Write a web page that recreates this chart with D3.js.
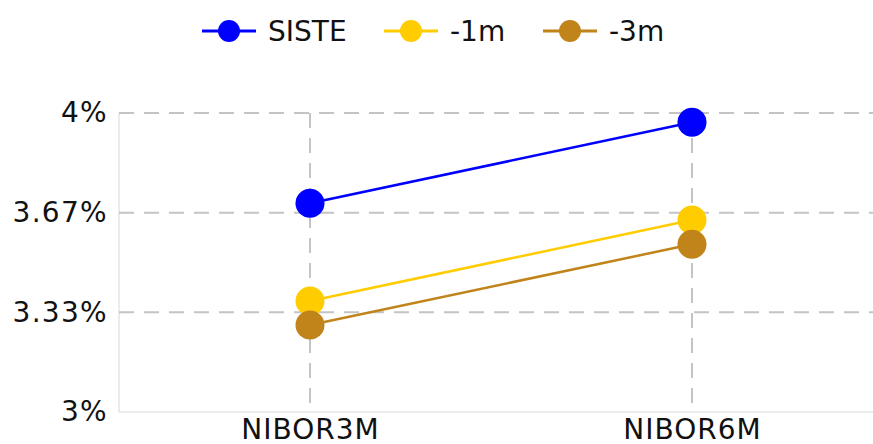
<!DOCTYPE html>
<html>
<head>
<meta charset="utf-8">
<script src="https://cdn.jsdelivr.net/npm/d3@7"></script>
<style>
  body { margin: 0; background: #fff; }
  text { font-family: "DejaVu Sans", sans-serif; fill: #111; }
</style>
</head>
<body>
<div id="chart"></div>
<script>
// data
var categories = ["NIBOR3M", "NIBOR6M"]
var seriesNames = ["SISTE", "-1m", "-3m"]
var seriesColors = ["#0000ff", "#ffcc00", "#c0841a"]
var siste = [3.698, 3.969]
var minus1m = [3.371, 3.642]
var minus3m = [3.291, 3.561]
var yTicks = [3, 10 / 3, 11 / 3, 4]
var yTickLabels = ["3%", "3.33%", "3.67%", "4%"]

var width = 873
var height = 444

var series = [siste, minus1m, minus3m].map((vals, i) => ({
    name: seriesNames[i],
    color: seriesColors[i],
    values: vals.map((v, j) => ({ cat: categories[j], v: v }))
}))

var svg = d3.select("#chart")
    .append("svg")
    .attr("width", width)
    .attr("height", height)

var x = d3.scalePoint()
    .domain(categories)
    .range([119, 883])
    .padding(0.5)

var y = d3.scaleLinear()
    .domain([3, 4])
    .range([412, 113])

// axis frame
svg.append("line")
    .attr("x1", 119).attr("x2", 119)
    .attr("y1", y(4)).attr("y2", y(3))
    .attr("stroke", "#e4e4e4").attr("stroke-width", 1.5)
svg.append("line")
    .attr("x1", 119).attr("x2", width)
    .attr("y1", y(3)).attr("y2", y(3))
    .attr("stroke", "#e4e4e4").attr("stroke-width", 1.5)

// dashed grid
svg.append("g")
    .selectAll("line")
    .data(yTicks.slice(1))
    .join("line")
    .attr("x1", 119).attr("x2", width)
    .attr("y1", d => y(d)).attr("y2", d => y(d))
    .attr("stroke", "#c4c4c4")
    .attr("stroke-width", 2)
    .attr("stroke-dasharray", "15,10")

svg.append("g")
    .selectAll("line")
    .data(categories)
    .join("line")
    .attr("x1", d => x(d)).attr("x2", d => x(d))
    .attr("y1", y(4)).attr("y2", y(3))
    .attr("stroke", "#c4c4c4")
    .attr("stroke-width", 2)
    .attr("stroke-dasharray", "15,10")

// axes via d3
var yAxis = svg.append("g")
    .attr("transform", "translate(119,0)")
    .call(d3.axisLeft(y).tickValues(yTicks).tickFormat((d, i) => yTickLabels[i]).tickSize(0).tickPadding(11))
yAxis.select(".domain").remove()
yAxis.selectAll("text")
    .attr("font-size", 28)
    .attr("font-family", "DejaVu Sans")
    .attr("letter-spacing", 1.3)
    .attr("fill", "#111")

var xAxis = svg.append("g")
    .attr("transform", "translate(0," + y(3) + ")")
    .call(d3.axisBottom(x).tickSize(0).tickPadding(7))
xAxis.select(".domain").remove()
xAxis.selectAll("text")
    .attr("font-size", 28)
    .attr("font-family", "DejaVu Sans")
    .attr("letter-spacing", 1)
    .attr("fill", "#111")

// lines and points
var line = d3.line()
    .x(d => x(d.cat))
    .y(d => y(d.v))

var g = svg.append("g")
    .selectAll("g")
    .data(series)
    .join("g")

g.append("path")
    .attr("d", d => line(d.values))
    .attr("fill", "none")
    .attr("stroke", d => d.color)
    .attr("stroke-width", 2.5)

g.selectAll("circle")
    .data(d => d.values.map(p => ({ ...p, color: d.color })))
    .join("circle")
    .attr("cx", d => x(d.cat))
    .attr("cy", d => y(d.v))
    .attr("r", 14.5)
    .attr("fill", d => d.color)

// legend
var legendX = [202, 384, 543]
var leg = svg.append("g")
    .selectAll("g")
    .data(series)
    .join("g")
    .attr("transform", (d, i) => "translate(" + legendX[i] + ",31)")

leg.append("line")
    .attr("x1", 0).attr("x2", 54)
    .attr("stroke", d => d.color)
    .attr("stroke-width", 3)
leg.append("circle")
    .attr("cx", 27)
    .attr("r", 11)
    .attr("fill", d => d.color)
leg.append("text")
    .attr("x", 66)
    .attr("dy", "0.36em")
    .attr("font-size", 28)
    .text(d => d.name)
</script>
</body>
</html>
